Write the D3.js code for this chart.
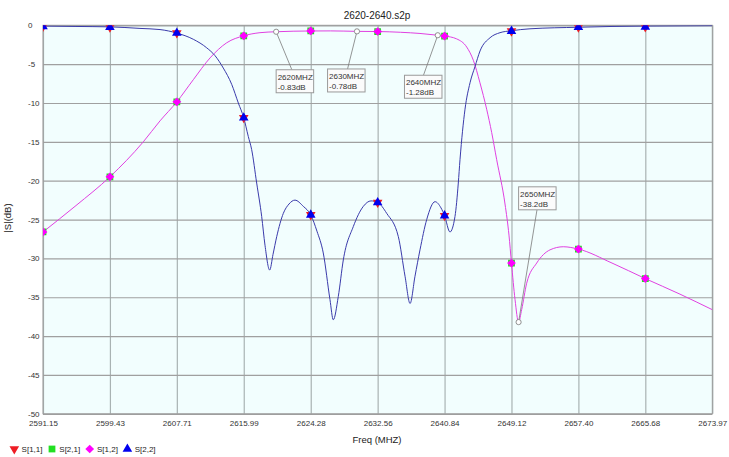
<!DOCTYPE html>
<html>
<head>
<meta charset="utf-8">
<script src="https://cdn.jsdelivr.net/npm/d3@7/dist/d3.min.js"></script>
<style>
  html, body { margin: 0; padding: 0; background: #ffffff; }
  svg { display: block; font-family: "Liberation Sans", Arial, sans-serif; }
</style>
</head>
<body>
<svg id="chart" width="729" height="457"></svg>
<script>
// ---------------- data ----------------
const title = "2620-2640.s2p";
const xTicks = [2591.15, 2599.43, 2607.71, 2615.99, 2624.28, 2632.56, 2640.84, 2649.12, 2657.40, 2665.68, 2673.97];
const xTickLabels = ["2591.15", "2599.43", "2607.71", "2615.99", "2624.28", "2632.56", "2640.84", "2649.12", "2657.40", "2665.68", "2673.97"];
const yTicks = [0, -5, -10, -15, -20, -25, -30, -35, -40, -45, -50];
const seriesNames = ["S[1,1]", "S[2,1]", "S[1,2]", "S[2,2]"];

// reflection curve (S11 / S22 overlap)
const reflFreq = [2591.15, 2595.23, 2599.43, 2603.15, 2605.63, 2607.71, 2609.75, 2611.41, 2612.43, 2613.46,
  2614.50, 2615.32, 2615.99, 2616.55, 2616.97, 2617.59, 2618.21, 2618.62, 2619.20, 2619.61,
  2620.07, 2620.89, 2621.59, 2622.33, 2623.36, 2624.28, 2625.05, 2625.83, 2626.66, 2627.07,
  2627.69, 2628.31, 2629.55, 2630.79, 2631.74, 2632.56, 2633.68, 2635.12, 2635.95, 2636.57,
  2637.18, 2637.80, 2638.63, 2639.66, 2640.40, 2640.84, 2641.51, 2642.13, 2642.54, 2642.75,
  2643.37, 2643.99, 2644.61, 2645.23, 2646.47, 2647.70, 2649.12, 2651.41, 2657.40, 2661.56,
  2665.68, 2673.97];
const reflDb = [-0.1, -0.15, -0.2, -0.4, -0.55, -1.0, -1.8, -2.9, -3.9, -5.5,
  -7.6, -10.0, -11.9, -14.3, -16.0, -20.3, -24.6, -28.3, -31.5, -29.5,
  -27.2, -24.2, -23.0, -22.5, -23.3, -24.4, -26.5, -29.3, -35.3, -37.9,
  -34.9, -30.2, -25.9, -23.3, -22.6, -22.8, -24.2, -27.2, -32.3, -35.8,
  -32.3, -28.9, -25.0, -22.7, -23.5, -24.5, -26.6, -24.6, -20.3, -17.3,
  -10.8, -7.4, -5.3, -3.3, -1.6, -0.95, -0.7, -0.45, -0.25, -0.15,
  -0.1, -0.05];

// transmission curve (S21 / S12 overlap)
const transFreq = [2591.15, 2595.23, 2599.43, 2603.56, 2605.63, 2607.71, 2609.75, 2611.82, 2613.88, 2615.99,
  2618.00, 2620.00, 2622.10, 2624.28, 2626.75, 2630.00, 2632.56, 2635.41, 2637.80, 2640.00,
  2640.84, 2642.34, 2643.58, 2644.40, 2645.22, 2646.05, 2646.67, 2647.29, 2648.32, 2648.81,
  2649.12, 2649.56, 2650.00, 2650.38, 2651.00, 2652.24, 2653.89, 2655.53, 2657.40, 2661.56,
  2665.68, 2669.97, 2673.97];
const transDb = [-26.6, -23.2, -19.5, -15.0, -12.3, -9.85, -7.0, -4.2, -2.25, -1.35,
  -0.95, -0.83, -0.76, -0.73, -0.72, -0.78, -0.8, -0.9, -1.05, -1.28,
  -1.38, -1.75, -2.8, -4.5, -7.4, -10.8, -13.8, -17.3, -23.0, -27.0,
  -30.6, -35.3, -38.2, -36.6, -33.2, -30.6, -28.9, -28.5, -28.8, -30.6,
  -32.6, -34.6, -36.6];

// markers
const markerFreq = [2591.15, 2599.43, 2607.71, 2615.99, 2624.28, 2632.56, 2640.84, 2649.12, 2657.40, 2665.68];
const s11Markers = [-0.15, -0.25, -1.0, -11.9, -24.4, -22.8, -24.5, -0.75, -0.25, -0.2];
const s21Markers = [-26.6, -19.5, -9.85, -1.35, -0.73, -0.8, -1.38, -30.6, -28.8, -32.6];
const s12Markers = [-26.6, -19.5, -9.85, -1.35, -0.73, -0.8, -1.38, -30.6, -28.8, -32.6];
const s22Markers = [-0.15, -0.25, -1.0, -11.9, -24.4, -22.8, -24.5, -0.75, -0.25, -0.2];

// callouts
const calloutFreq = [2620, 2630, 2640, 2650];
const calloutDb = [-0.83, -0.78, -1.28, -38.2];
const calloutLabels = [["2620MHZ", "-0.83dB"], ["2630MHZ", "-0.78dB"], ["2640MHZ", "-1.28dB"], ["2650MHZ", "-38.2dB"]];

// ---------------- layout ----------------
const L = 43, R = 712.3, T = 25.3, B = 413.8;
const calloutLayout = [
  { bx: 0, by: 38, lx: 15.7, ly: 38 },
  { bx: -29.4, by: 37.6, lx: 20, ly: 37.6 },
  { bx: -33.3, by: 40, lx: 19, ly: 40 },
  { bx: 0, by: -135.3, lx: 18.4, ly: -112.3 }
];
const boxW = 37.5, boxH = 23;

const svg = d3.select("#chart");
const x = d3.scaleLinear().domain([xTicks[0], xTicks[xTicks.length - 1]]).range([L, R]);
const y = d3.scaleLinear().domain([-50, 0]).range([B, T]);

svg.append("defs").append("clipPath").attr("id", "plotclip")
  .append("rect").attr("x", L).attr("y", T).attr("width", R - L).attr("height", B - T);

// plot background
svg.append("rect").attr("x", L).attr("y", T).attr("width", R - L).attr("height", B - T)
  .attr("fill", "#f2fefe");

// x axis + vertical grid
const xAxis = d3.axisBottom(x).tickValues(xTicks)
  .tickFormat((d, i) => xTickLabels[i]).tickSize(-(B - T)).tickPadding(7);
const gx = svg.append("g").attr("transform", `translate(0,${B})`).call(xAxis);
gx.select(".domain").remove();
gx.selectAll(".tick line").attr("stroke", "#a9b3b3").attr("stroke-width", 1.2);
gx.selectAll(".tick text").attr("font-size", "8px").attr("fill", "#333")
  .attr("font-family", "Liberation Sans, Arial, sans-serif");

// y axis + horizontal grid
const yAxis = d3.axisLeft(y).tickValues(yTicks).tickFormat(d => String(d)).tickSize(-(R - L)).tickPadding(0);
const gy = svg.append("g").attr("transform", `translate(${L},0)`).call(yAxis);
gy.select(".domain").remove();
gy.selectAll(".tick line").attr("stroke", "#a0a0a0").attr("stroke-width", 1.2);
gy.selectAll(".tick text").attr("font-size", "8px").attr("fill", "#333")
  .attr("text-anchor", "start").attr("x", -15)
  .attr("font-family", "Liberation Sans, Arial, sans-serif");

// plot border
svg.append("rect").attr("x", L).attr("y", T).attr("width", R - L).attr("height", B - T)
  .attr("fill", "none").attr("stroke", "#9a9a9a").attr("stroke-width", 1);

const plot = svg.append("g").attr("clip-path", "url(#plotclip)");

// curves
const line = d3.line().x(d => x(d[0])).y(d => y(d[1])).curve(d3.curveMonotoneX);
const transPts = transFreq.map((f, i) => [f, transDb[i]]);
const reflPts = reflFreq.map((f, i) => [f, reflDb[i]]);
plot.append("path").datum(transPts).attr("d", line).attr("fill", "none")
  .attr("stroke", "#e040e0").attr("stroke-width", 1);
plot.append("path").datum(reflPts).attr("d", line).attr("fill", "none")
  .attr("stroke", "#3a3aaa").attr("stroke-width", 1);

// markers
const sym = {
  s11: { type: d3.symbolTriangle, size: 40, rot: 180, color: "#ee1c24" },
  s21: { type: d3.symbolSquare, size: 46, rot: 0, color: "#22e022" },
  s12: { type: d3.symbolSquare, size: 38, rot: 45, color: "#ff00ff" },
  s22: { type: d3.symbolTriangle, size: 40, rot: 0, color: "#0000ee" }
};
function drawMarkers(vals, s) {
  plot.append("g").selectAll("path").data(markerFreq).join("path")
    .attr("d", d3.symbol().type(s.type).size(s.size))
    .attr("transform", (f, i) => `translate(${x(f)},${y(vals[i])}) rotate(${s.rot})`)
    .attr("fill", s.color);
}
drawMarkers(s11Markers, sym.s11);
drawMarkers(s21Markers, sym.s21);
drawMarkers(s12Markers, sym.s12);
drawMarkers(s22Markers, sym.s22);

// callouts
calloutFreq.forEach((f, i) => {
  const px = x(f), py = y(calloutDb[i]);
  const lay = calloutLayout[i];
  const bx = px + lay.bx, by = py + lay.by;
  svg.append("line").attr("x1", px).attr("y1", py).attr("x2", bx + lay.lx).attr("y2", py + lay.ly)
    .attr("stroke", "#7a7a7a").attr("stroke-width", 0.8);
  svg.append("circle").attr("cx", px).attr("cy", py).attr("r", 2.6)
    .attr("fill", "#ffffff").attr("stroke", "#777").attr("stroke-width", 0.8);
  svg.append("rect").attr("x", bx).attr("y", by).attr("width", boxW).attr("height", boxH)
    .attr("fill", "#fbfbfb").attr("stroke", "#9a9a9a").attr("stroke-width", 1);
  calloutLabels[i].forEach((t, j) => {
    svg.append("text").attr("x", bx + 1.5).attr("y", by + 10 + j * 10)
      .attr("font-size", "8px").attr("fill", "#333").text(t);
  });
});

// title and axis titles
svg.append("text").attr("x", 377).attr("y", 19).attr("text-anchor", "middle")
  .attr("font-size", "10px").attr("fill", "#222").text(title);
svg.append("text").attr("x", 377).attr("y", 443).attr("text-anchor", "middle")
  .attr("font-size", "9.5px").attr("fill", "#222").text("Freq (MHZ)");
svg.append("text").attr("transform", "translate(11,218) rotate(-90)").attr("text-anchor", "middle")
  .attr("font-size", "9.5px").attr("fill", "#222").text("|S|(dB)");

// legend
const legendSyms = [sym.s11, sym.s21, sym.s12, sym.s22];
seriesNames.forEach((name, i) => {
  const lx = 14.3 + i * 37.7, ly = 449;
  svg.append("path").attr("d", d3.symbol().type(legendSyms[i].type).size(legendSyms[i].size)())
    .attr("transform", `translate(${lx},${ly}) rotate(${legendSyms[i].rot})`)
    .attr("fill", legendSyms[i].color);
  svg.append("text").attr("x", lx + 7.3).attr("y", ly + 3).attr("font-size", "8px")
    .attr("fill", "#222").text(name);
});
</script>
</body>
</html>
